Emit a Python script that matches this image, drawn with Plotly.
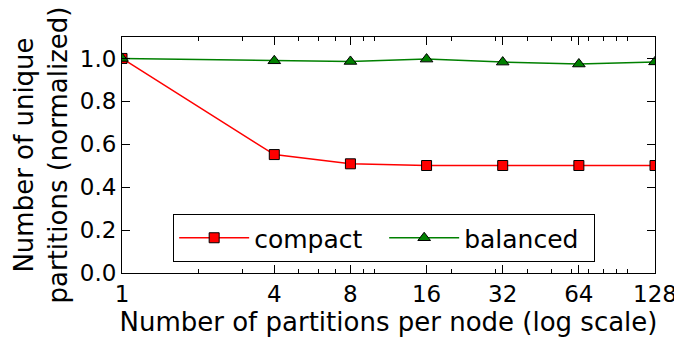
import plotly.graph_objects as go

partitions = [1, 4, 8, 16, 32, 64, 128]
compact = [1.0, 0.552, 0.509, 0.501, 0.501, 0.501, 0.501]
balanced = [1.0, 0.989, 0.986, 0.997, 0.983, 0.974, 0.984]
x_ticks = [1, 4, 8, 16, 32, 64, 128]
x_minor = [2, 3, 5, 6, 7, 9, 10, 20, 30, 40, 50, 60, 70, 80, 90, 100]
y_ticks = [0.0, 0.2, 0.4, 0.6, 0.8, 1.0]

font = "DejaVu Sans"
fig = go.Figure()
fig.add_trace(go.Scatter(
    x=partitions, y=compact, name="compact", mode="lines+markers",
    line=dict(color="red", width=1.5),
    marker=dict(symbol="square", size=10, color="red", line=dict(color="black", width=1)),
))
fig.add_trace(go.Scatter(
    x=partitions, y=balanced, name="balanced", mode="lines+markers",
    line=dict(color="green", width=1.5),
    marker=dict(symbol="triangle-up", size=11, color="green", line=dict(color="black", width=1)),
))

fig.update_layout(
    width=674, height=331,
    margin=dict(l=114, r=27, t=29, b=66, autoexpand=False),
    plot_bgcolor="white", paper_bgcolor="white",
    font=dict(family=font, size=23, color="black"),
    showlegend=True,
    legend=dict(
        orientation="h", x=0.096, y=0.25, xanchor="left", yanchor="top",
        bordercolor="black", borderwidth=1, bgcolor="white",
        font=dict(size=25), entrywidth=125, itemwidth=70,
    ),
)
fig.update_xaxes(
    type="log", range=[0, 2.10721], tickvals=x_ticks, ticktext=[str(v) for v in x_ticks],
    ticks="inside", ticklen=8, tickwidth=1, tickcolor="black",
    minor=dict(tickvals=x_minor, ticks="inside", ticklen=4, tickcolor="black", tickwidth=1),
    showline=True, linecolor="black", linewidth=1, mirror="allticks",
    showgrid=False, zeroline=False, automargin=False,
    title=dict(text="Number of partitions per node (log scale)", font=dict(size=26), standoff=2),
    tickfont=dict(size=23),
)
fig.update_yaxes(
    range=[0, 1.1], tickvals=y_ticks, ticktext=[f"{v:.1f}" for v in y_ticks],
    ticks="inside", ticklen=8, tickwidth=1, tickcolor="black",
    showline=True, linecolor="black", linewidth=1, mirror="allticks",
    showgrid=False, zeroline=False, automargin=False,
    title=dict(text="Number of unique<br>partitions (normalized)", font=dict(size=26), standoff=4),
    tickfont=dict(size=23),
)

fig.write_html("out.html")
